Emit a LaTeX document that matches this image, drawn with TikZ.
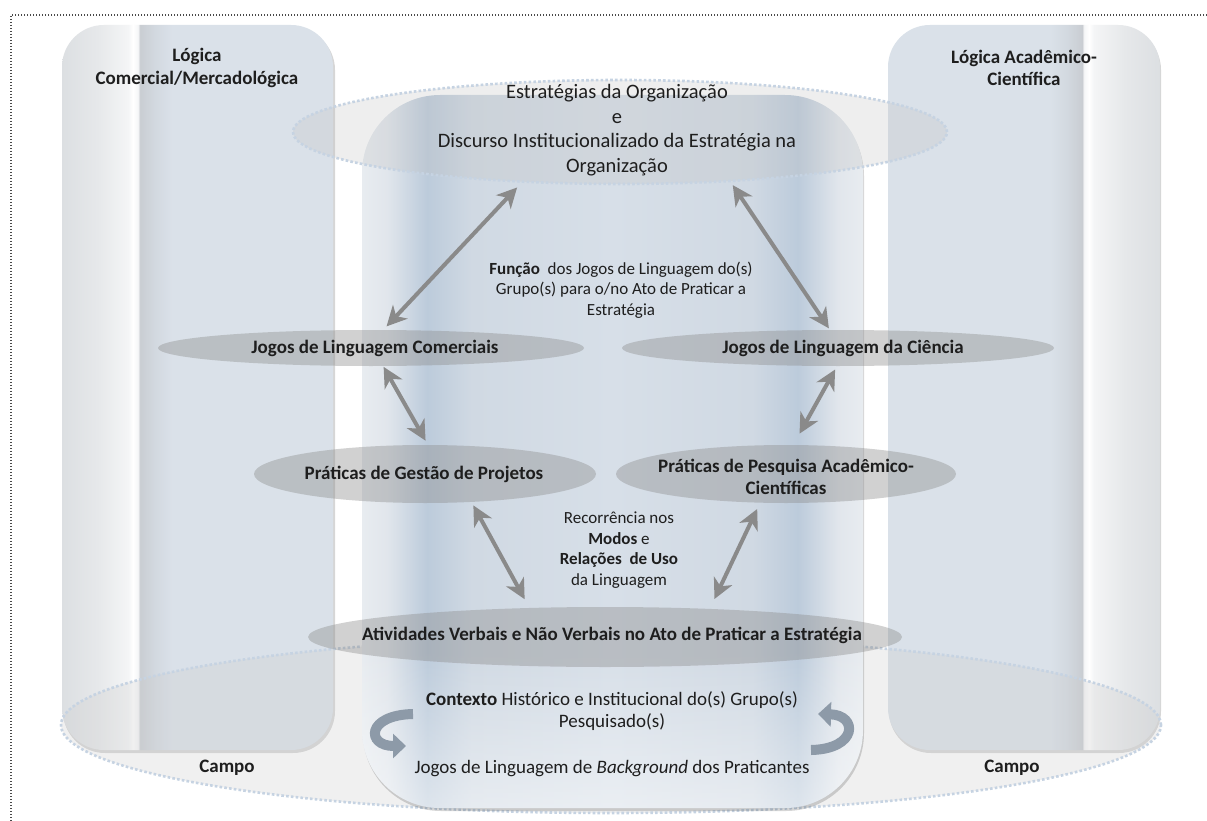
\documentclass[tikz,border=0pt]{standalone}
\usepackage{fontspec}
\setmainfont{Carlito}
\usetikzlibrary{shapes.geometric,arrows.meta,fadings}

\definecolor{txt}{HTML}{1E1E1E}
\definecolor{arrg}{HTML}{8A8A8A}
\definecolor{curvc}{HTML}{8D9AA8}
\definecolor{ringc}{HTML}{C6D3E2}
\definecolor{framec}{HTML}{4A4A4A}
\definecolor{lc0}{HTML}{DCDFE2}
\definecolor{lc1}{HTML}{E6E8EA}
\definecolor{lc2}{HTML}{F4F5F6}
\definecolor{lc3}{HTML}{FFFFFF}
\definecolor{lc4}{HTML}{F5F6F7}
\definecolor{lc5}{HTML}{C9CDD2}
\definecolor{lc6}{HTML}{D2D8DF}
\definecolor{colbg}{HTML}{DAE1E9}
\definecolor{cc0}{HTML}{E8ECF0}
\definecolor{cc1}{HTML}{E1E6EC}
\definecolor{cc2}{HTML}{BCCBDB}
\definecolor{cc3}{HTML}{D0D9E3}
\definecolor{cc4}{HTML}{D7DFE8}

\pgfdeclarehorizontalshading{leftcolsh}{100bp}{color(0bp)=(lc0); color(25bp)=(lc0); color(31.46bp)=(lc1); color(37.18bp)=(lc2); color(38.1bp)=(lc3); color(39.02bp)=(lc4); color(39.39bp)=(lc5); color(41.97bp)=(lc6); color(45.3bp)=(colbg); color(100bp)=(colbg)}
\pgfdeclarehorizontalshading{rightcolsh}{100bp}{color(0bp)=(colbg); color(54.78bp)=(colbg); color(58.09bp)=(lc6); color(60.66bp)=(lc5); color(61.03bp)=(lc4); color(61.95bp)=(lc3); color(62.87bp)=(lc2); color(68.57bp)=(lc1); color(75bp)=(lc0); color(100bp)=(lc0)}
\pgfdeclarehorizontalshading{centcolsh}{100bp}{color(0bp)=(cc0); color(25bp)=(cc0); color(27.49bp)=(cc1); color(31.49bp)=(cc2); color(35.98bp)=(cc3); color(49.95bp)=(cc4); color(63.92bp)=(cc3); color(68.51bp)=(cc2); color(72.5bp)=(cc1); color(75bp)=(cc0); color(100bp)=(cc0)}

\begin{document}
\begin{tikzpicture}[x=1pt,y=-1pt,
  gell/.style={ellipse, fill=black!45, fill opacity=.40, draw=none, inner sep=0pt, outer sep=0pt},
  ring/.style={ellipse, inner sep=0pt, outer sep=0pt, draw=ringc, line width=2.6pt, dash pattern=on 2.6pt off 2.2pt},
  lbl/.style={font=\fontsize{19}{22.5}\selectfont\bfseries, text=txt, align=center, inner sep=0pt},
  sm/.style={font=\fontsize{17}{20.5}\selectfont, text=txt, align=center, inner sep=0pt},
  big/.style={font=\fontsize{20.5}{24.5}\selectfont, text=txt, align=center, inner sep=0pt},
  mid/.style={font=\fontsize{19}{22}\selectfont, text=txt, align=center, inner sep=0pt},
  dbl/.style={draw=arrg, line width=4pt, {Stealth[length=20pt,width=20pt,inset=6pt]}-{Stealth[length=20pt,width=20pt,inset=6pt]}},
  curv/.style={draw=curvc, line width=10pt, -{Triangle[length=13pt,width=24pt]}},
  framel/.style={draw=framec, line width=1.5pt, dash pattern=on 1.4pt off 1.6pt},
  colshadow/.style={fill=black, opacity=.16}
]
\useasboundingbox (0,0) rectangle (1207,821);
\fill[white] (0,0) rectangle (1207,821);

% dotted frame
\draw[framel] (1207,15) -- (11,15) -- (11,821);

% side columns
\fill[colshadow, rounded corners=42pt] (63,28) rectangle (335,753);
\shade[shading=leftcolsh, rounded corners=42pt] (62,25) rectangle (333,750);
\fill[colshadow, rounded corners=42pt] (889,28) rectangle (1161,753);
\shade[shading=rightcolsh, rounded corners=42pt] (888,25) rectangle (1160,750);

% field ellipse
\node[ring, fill=black!20, fill opacity=.28, minimum width=1100pt, minimum height=176pt] (fieldE) at (611,725) {};

% central column
\fill[colshadow, rounded corners=78pt] (363,98) rectangle (864,811);
\shade[shading=centcolsh, rounded corners=78pt] (362,95) rectangle (863,808);
\begin{scope}
  \clip[rounded corners=78pt] (362,95) rectangle (863,808);
  \fill[white, opacity=.5, path fading=north] (362,650) rectangle (863,810);
\end{scope}

% top ellipse
\node[ring, fill=black!25, fill opacity=.25, minimum width=654pt, minimum height=104pt] (topE) at (620,132) {};

% grey ellipses
\node[gell, minimum width=426pt, minimum height=36pt] (jcom) at (371,348) {};
\node[gell, minimum width=432pt, minimum height=36pt] (jcie) at (838,348) {};
\node[gell, minimum width=342pt, minimum height=58pt] (prg) at (425,474) {};
\node[gell, minimum width=340pt, minimum height=58pt] (prp) at (786,474) {};
\node[gell, minimum width=594pt, minimum height=60pt] (act) at (605,637) {};

% double arrows
\draw[dbl, shorten <=8pt, shorten >=5pt] (topE.-153) -- (jcom.56);
\draw[dbl, shorten <=5pt, shorten >=2pt] (topE.-24) -- (jcie.114);
\draw[dbl, shorten <=1pt, shorten >=5pt] (jcom.-56) -- (prg.84);
\draw[dbl, shorten <=4pt, shorten >=13pt] (jcie.-93) -- (prp.76);
\draw[dbl, shorten <=4pt, shorten >=10pt] (prg.-31) -- (act.159);
\draw[dbl, shorten <=7pt, shorten >=11pt] (prp.-132) -- (act.15);

% curved arrows
\coordinate (cla) at (413,714);
\coordinate (clb) at (406,746);
\coordinate (cra) at (811,750);
\coordinate (crb) at (818,714);
\draw[curv] (cla) .. controls (366,715) and (366,746) .. (clb);
\draw[curv] (cra) .. controls (858,749) and (858,715) .. (crb);

% texts
\node[lbl] (ltitle) at (197,68) {Lógica\\Comercial/Mercadológica};
\node[lbl] (rtitle) at (1024,68) {Lógica Acadêmico-\\Científica};
\node[lbl] (campoL) at (227,768) {Campo};
\node[lbl] (campoR) at (1012,768) {Campo};
\node[big] (topT) at (617,130) {Estratégias da Organização\\e\\Discurso Institucionalizado da Estratégia na\\Organização};
\node[sm] (funcT) at (621,290) {\textbf{Função}\ \ dos Jogos de Linguagem do(s)\\Grupo(s) para o/no Ato de Praticar a\\Estratégia};
\node[lbl] (jcomT) at (375,348) {Jogos de Linguagem Comerciais};
\node[lbl] (jcieT) at (843,348) {Jogos de Linguagem da Ciência};
\node[lbl] (prgT) at (424,474) {Práticas de Gestão de Projetos};
\node[lbl] (prpT) at (786,477) {Práticas de Pesquisa Acadêmico-\\Científicas};
\node[sm] (recT) at (619,550) {Recorrência nos\\\textbf{Modos} e\\\textbf{Relações\ \ de Uso}\\da Linguagem};
\node[lbl] (actT) at (612,635) {Atividades Verbais e Não Verbais no Ato de Praticar a Estratégia};
\node[mid] (contT) at (612,711) {\textbf{Contexto} Histórico e Institucional do(s) Grupo(s)\\Pesquisado(s)};
\node[mid] (bgT) at (612,769) {Jogos de Linguagem de \textit{Background} dos Praticantes};
\end{tikzpicture}
\end{document}
